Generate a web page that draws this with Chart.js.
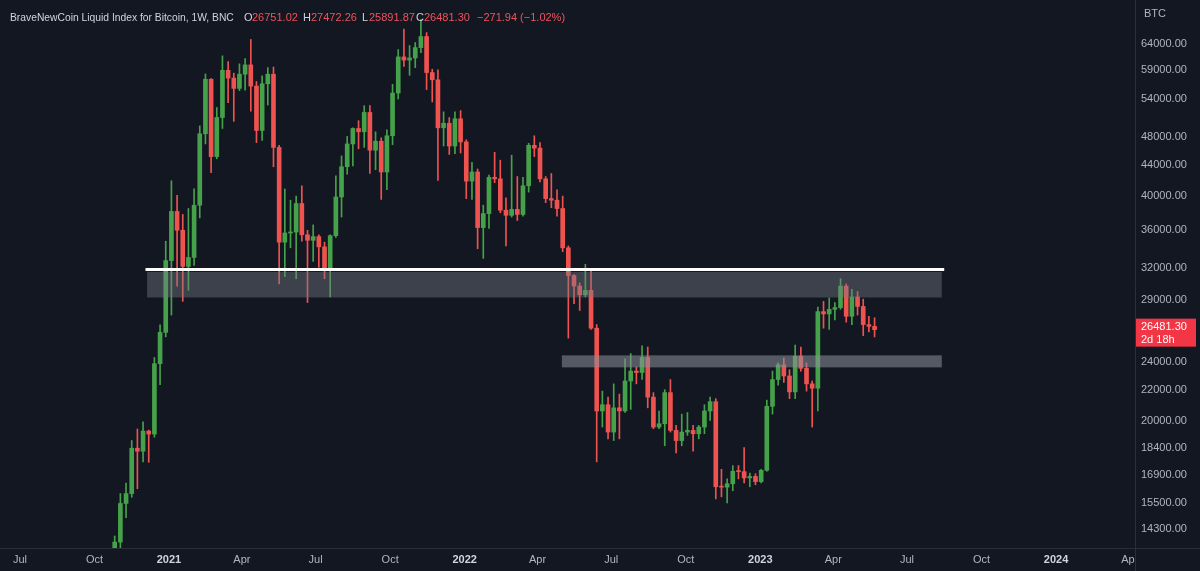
<!DOCTYPE html>
<html>
<head>
<meta charset="utf-8">
<script src="https://cdn.jsdelivr.net/npm/chart.js@4.4.0/dist/chart.umd.min.js"></script>
<style>
html, body { margin: 0; padding: 0; background: #131722; }
canvas { display: block; }
</style>
</head>
<body>
<canvas id="btcChart" width="1200" height="571"></canvas>
<script>
// Weekly candles (week start, Monday)
const weeks = [
  '2020-10-26','2020-11-02','2020-11-09','2020-11-16','2020-11-23','2020-11-30','2020-12-07','2020-12-14','2020-12-21','2020-12-28',
  '2021-01-04','2021-01-11','2021-01-18','2021-01-25','2021-02-01','2021-02-08','2021-02-15','2021-02-22','2021-03-01','2021-03-08',
  '2021-03-15','2021-03-22','2021-03-29','2021-04-05','2021-04-12','2021-04-19','2021-04-26','2021-05-03','2021-05-10','2021-05-17',
  '2021-05-24','2021-05-31','2021-06-07','2021-06-14','2021-06-21','2021-06-28','2021-07-05','2021-07-12','2021-07-19','2021-07-26',
  '2021-08-02','2021-08-09','2021-08-16','2021-08-23','2021-08-30','2021-09-06','2021-09-13','2021-09-20','2021-09-27','2021-10-04',
  '2021-10-11','2021-10-18','2021-10-25','2021-11-01','2021-11-08','2021-11-15','2021-11-22','2021-11-29','2021-12-06','2021-12-13',
  '2021-12-20','2021-12-27','2022-01-03','2022-01-10','2022-01-17','2022-01-24','2022-01-31','2022-02-07','2022-02-14','2022-02-21',
  '2022-02-28','2022-03-07','2022-03-14','2022-03-21','2022-03-28','2022-04-04','2022-04-11','2022-04-18','2022-04-25','2022-05-02',
  '2022-05-09','2022-05-16','2022-05-23','2022-05-30','2022-06-06','2022-06-13','2022-06-20','2022-06-27','2022-07-04','2022-07-11',
  '2022-07-18','2022-07-25','2022-08-01','2022-08-08','2022-08-15','2022-08-22','2022-08-29','2022-09-05','2022-09-12','2022-09-19',
  '2022-09-26','2022-10-03','2022-10-10','2022-10-17','2022-10-24','2022-10-31','2022-11-07','2022-11-14','2022-11-21','2022-11-28',
  '2022-12-05','2022-12-12','2022-12-19','2022-12-26','2023-01-02','2023-01-09','2023-01-16','2023-01-23','2023-01-30','2023-02-06',
  '2023-02-13','2023-02-20','2023-02-27','2023-03-06','2023-03-13','2023-03-20','2023-03-27','2023-04-03','2023-04-10','2023-04-17',
  '2023-04-24','2023-05-01','2023-05-08','2023-05-15','2023-05-22'
];
const opens = [
  13030,13740,15480,15960,18360,18190,19360,19180,23840,26260,
  32780,38150,36000,32200,33100,38900,48500,57400,45200,51000,
  59000,57600,55800,58300,60000,56200,49000,56600,58300,46500,
  34700,35700,35800,39100,35500,34900,35300,34200,31800,35400,
  39900,43800,47000,49300,48800,51800,46100,47400,43100,48200,
  55000,61500,60900,61300,63300,65500,58600,57300,49400,50100,
  46700,50800,47300,41900,43100,36300,37900,42400,42200,38300,
  37700,38400,37800,41300,46800,46400,42200,39700,39500,38500,
  34100,31300,30300,29500,29900,26600,20600,21000,19300,20800,
  20600,22600,23300,23200,24300,21500,19600,19800,21800,19400,
  18800,19300,19400,19200,19600,20600,21200,16300,16280,16450,
  17100,17080,16750,16830,16560,17150,20900,22700,23750,22950,
  21850,24400,23500,22400,22100,28000,27800,28200,28350,30300,
  27600,29300,28450,26900,26751.02
];
const highs = [
  14000,15960,16480,18800,19480,19920,19420,24300,26870,34800,
  41950,40100,37800,38500,40900,49700,58350,57500,52600,61700,
  60600,58500,60200,61200,64900,57000,58000,59500,59600,46800,
  40900,39500,40000,41300,36000,36600,35500,34700,35500,42600,
  45300,48100,49400,50500,52900,52900,48800,47900,49100,56500,
  62900,67000,63700,64300,69000,66300,59200,59100,51900,51000,
  51900,52100,47600,44400,43500,38900,42700,45800,44700,39800,
  45400,42500,42400,47100,48200,47200,42500,42900,40800,40000,
  34300,31400,30600,32400,31700,26900,21900,21500,22400,21700,
  24200,24600,23600,25200,25100,21800,20600,22000,22700,19700,
  20400,20500,19700,19700,21000,21500,21400,17200,16700,17400,
  17400,18400,17000,16970,17200,21300,23300,23900,24250,23400,
  25250,25100,23900,22600,28400,28900,29200,28800,31000,30500,
  30000,29800,29100,27600,27472.26
];
const lows = [
  12900,13200,14810,15780,16200,17600,17580,19000,22350,25900,
  27700,30300,28900,29900,32300,37400,47000,43000,44900,49300,
  53400,50400,55400,55500,52000,47200,47500,53000,43800,30500,
  31200,34100,31000,34800,28800,32700,32100,31000,29300,35200,
  37500,42800,43900,46300,46500,42900,43400,39600,40800,46900,
  54000,59700,58100,59500,62300,55600,53500,42000,46700,45500,
  45600,45700,39700,39600,34000,33000,36200,41700,38000,34300,
  37500,37100,37600,40500,45200,41800,39200,38600,37600,33700,
  25800,28700,28100,29300,26500,17600,19600,18900,18800,18900,
  20500,20700,22400,22700,20800,19500,19500,18500,19300,18100,
  18500,19100,18200,18900,19200,20000,15700,15800,15500,16100,
  16700,16500,16300,16400,16500,17100,20400,22300,22500,21400,
  21400,23300,21900,19600,20600,26600,26500,27300,28200,27100,
  26900,27700,26000,26300,25891.87
];
const closes = [
  13740,15480,15960,18360,18190,19360,19180,23840,26260,32780,
  38150,36000,32200,33100,38900,48500,57400,45200,51000,59000,
  57600,55800,58300,60000,56200,49000,56600,58300,46500,34700,
  35700,35800,39100,35500,34900,35300,34200,31800,35400,39900,
  43800,47000,49300,48800,51800,46100,47400,43100,48200,55000,
  61500,60900,61300,63300,65500,58600,57300,49400,50100,46700,
  50800,47300,41900,43100,36300,37900,42400,42200,38300,37700,
  38400,37800,41300,46800,46400,42200,39700,39500,38500,34100,
  31300,30300,29500,29900,26600,20600,21000,19300,20800,20600,
  22600,23300,23200,24300,21500,19600,19800,21800,19400,18800,
  19300,19400,19200,19600,20600,21200,16300,16280,16450,17100,
  17080,16750,16830,16560,17150,20900,22700,23750,22950,21850,
  24400,23500,22400,22100,28000,27800,28200,28350,30300,27600,
  29300,28450,26900,26753.24,26481.30
];

// axis ticks
const yTicks = [64000, 59000, 54000, 48000, 44000, 40000, 36000, 32000, 29000, 24000, 22000, 20000, 18400, 16900, 15500, 14300];
const xTickDates = ['2020-07-01','2020-10-01','2021-01-01','2021-04-01','2021-07-01','2021-10-01','2022-01-01','2022-04-01',
                    '2022-07-01','2022-10-01','2023-01-01','2023-04-01','2023-07-01','2023-10-01','2024-01-01','2024-04-01'];
const xTickLabels = ['Jul','Oct','2021','Apr','Jul','Oct','2022','Apr','Jul','Oct','2023','Apr','Jul','Oct','2024','Apr'];

// drawings: resistance line and two zones
const lineFrom = '2020-12-03', lineTo = '2023-08-16', linePrice = 31900;
const zoneFrom = ['2020-12-05', '2022-05-01'];
const zoneTo = ['2023-08-13', '2023-08-13'];
const zoneHigh = [31650, 24460];
const zoneLow = [29250, 23570];

const countdown = '2d 18h';

const UP = '#46a24a';
const DOWN = '#ef5350';
const BG = '#131722';
const FONT = "'Liberation Sans', Arial, sans-serif";

const day0 = Date.parse('2021-01-01');
const day = s => (Date.parse(s) - day0) / 864e5;
const isUp = i => closes[i] >= opens[i];

const wickData = weeks.map((w, i) => ({ x: day(w), y: [lows[i], highs[i]] }));
const bodyData = weeks.map((w, i) => ({ x: day(w), y: [opens[i], closes[i]] }));
const candleColors = weeks.map((w, i) => isUp(i) ? UP : DOWN);

const noPad = s => { s.paddingLeft = 0; s.paddingRight = 0; s.paddingTop = 0; s.paddingBottom = 0; };

const drawings = {
    id: 'drawings',
    beforeDraw(chart) {
        const ctx = chart.ctx;
        ctx.save();
        ctx.fillStyle = BG;
        ctx.fillRect(0, 0, chart.width, chart.height);
        ctx.restore();
    },
    afterDatasetsDraw(chart) {
        const { ctx, chartArea, scales: { x, y } } = chart;
        ctx.save();
        ctx.beginPath();
        ctx.rect(chartArea.left, chartArea.top, chartArea.right - chartArea.left, chartArea.bottom - chartArea.top);
        ctx.clip();
        const zoneColors = ['rgba(120,123,134,0.42)', 'rgba(140,143,153,0.55)'];
        zoneFrom.forEach((f, i) => {
            const x0 = x.getPixelForValue(day(f));
            const x1 = x.getPixelForValue(day(zoneTo[i]));
            const y0 = y.getPixelForValue(zoneHigh[i]);
            const y1 = y.getPixelForValue(zoneLow[i]);
            ctx.fillStyle = zoneColors[i];
            ctx.fillRect(x0, y0, x1 - x0, y1 - y0);
        });
        const ly = y.getPixelForValue(linePrice);
        ctx.strokeStyle = '#ffffff';
        ctx.lineWidth = 3;
        ctx.beginPath();
        ctx.moveTo(x.getPixelForValue(day(lineFrom)), ly);
        ctx.lineTo(x.getPixelForValue(day(lineTo)), ly);
        ctx.stroke();
        ctx.restore();
    },
    afterDraw(chart) {
        const { ctx, chartArea, scales: { y } } = chart;
        ctx.save();
        // hide the cut part of the last month label under the price scale
        ctx.fillStyle = BG;
        ctx.fillRect(chartArea.right + 1, chartArea.bottom + 1, chart.width - chartArea.right, chart.height - chartArea.bottom);

        // panel separators
        ctx.strokeStyle = '#2a2e39';
        ctx.lineWidth = 1;
        ctx.beginPath();
        ctx.moveTo(0, chartArea.bottom + 0.5);
        ctx.lineTo(chart.width, chartArea.bottom + 0.5);
        ctx.moveTo(chartArea.right + 0.5, 0);
        ctx.lineTo(chartArea.right + 0.5, chart.height);
        ctx.stroke();

        // currency label
        ctx.fillStyle = '#b2b5be';
        ctx.font = '11px ' + FONT;
        ctx.textBaseline = 'middle';
        ctx.textAlign = 'left';
        ctx.fillText('BTC', chartArea.right + 9, 14);

        // last price box
        const last = closes[closes.length - 1];
        const py = y.getPixelForValue(last);
        ctx.fillStyle = '#f23645';
        ctx.fillRect(chartArea.right + 1, py - 11, 60, 28);
        ctx.fillStyle = '#ffffff';
        ctx.fillText(last.toFixed(2), chartArea.right + 6, py - 3);
        ctx.fillText(countdown, chartArea.right + 6, py + 10);

        // legend line
        const lastIdx = closes.length - 1;
        const chg = closes[lastIdx] - closes[lastIdx - 1];
        const pct = chg / closes[lastIdx - 1] * 100;
        const grey = '#d1d4dc';
        const red = '#f0525c';
        const fmt = v => (v < 0 ? '\u2212' : '+') + Math.abs(v).toFixed(2);
        const parts = [
            ['BraveNewCoin Liquid Index for Bitcoin, 1W, BNC', grey, 10],
            ['O', grey, 244], [opens[lastIdx].toFixed(2), red, 252],
            ['H', grey, 303], [highs[lastIdx].toFixed(2), red, 311],
            ['L', grey, 362], [lows[lastIdx].toFixed(2), red, 369],
            ['C', grey, 416], [closes[lastIdx].toFixed(2), red, 424],
            [fmt(chg) + ' (' + fmt(pct) + '%)', red, 477]
        ];
        parts.forEach(([t, c, px], i) => {
            ctx.font = (i === 0 ? '10.3px ' : '11px ') + FONT;
            ctx.fillStyle = c;
            ctx.fillText(t, px, 18);
        });
        ctx.restore();
    }
};

new Chart(document.getElementById('btcChart'), {
    type: 'bar',
    data: {
        datasets: [{
            label: 'wick',
            data: wickData,
            backgroundColor: candleColors,
            barThickness: 1,
            grouped: false,
            order: 2
        }, {
            label: 'body',
            data: bodyData,
            backgroundColor: candleColors,
            barThickness: 4,
            minBarLength: 1,
            grouped: false,
            order: 1
        }]
    },
    options: {
        responsive: false,
        animation: false,
        devicePixelRatio: 1,
        layout: { padding: 0 },
        plugins: {
            legend: { display: false },
            tooltip: { enabled: false }
        },
        scales: {
            x: {
                type: 'linear',
                offset: false,
                min: -208.6,
                max: 1192.5,
                grid: { display: false, drawTicks: false },
                border: { display: false },
                afterFit: s => { s.height = 23; noPad(s); },
                afterBuildTicks: s => { s.ticks = xTickDates.map(d => ({ value: day(d) })); },
                ticks: {
                    autoSkip: false,
                    maxRotation: 0,
                    minRotation: 0,
                    padding: 5,
                    callback: (v, i) => xTickLabels[i],
                    color: ctx => /^\d{4}$/.test(xTickLabels[ctx.index]) ? '#d1d4dc' : '#b2b5be',
                    font: ctx => ({ family: FONT, size: 11, weight: /^\d{4}$/.test(xTickLabels[ctx.index]) ? 'bold' : 'normal' })
                }
            },
            y: {
                type: 'logarithmic',
                position: 'right',
                min: 13490,
                max: 73320,
                grid: { display: false, drawTicks: false },
                border: { display: false },
                afterFit: s => { s.width = 65; noPad(s); },
                afterBuildTicks: s => { s.ticks = yTicks.map(v => ({ value: v })); },
                ticks: {
                    padding: 6,
                    color: '#b2b5be',
                    font: { family: FONT, size: 11 },
                    callback: v => Number(v).toFixed(2)
                }
            }
        }
    },
    plugins: [drawings]
});
</script>
</body>
</html>
